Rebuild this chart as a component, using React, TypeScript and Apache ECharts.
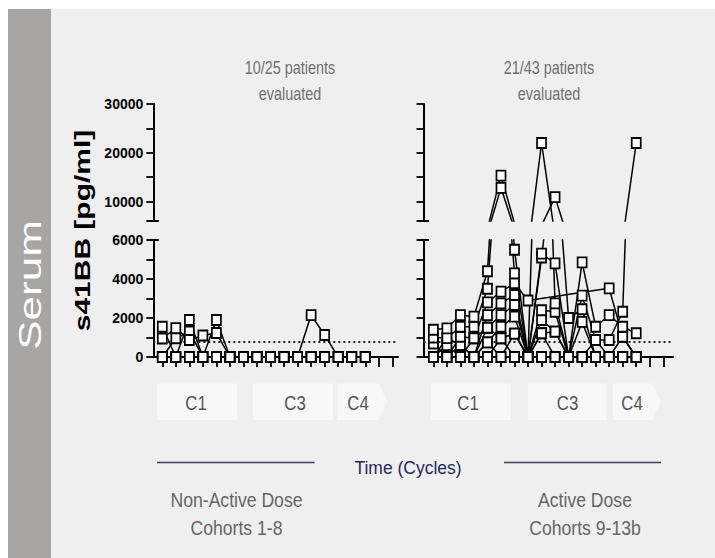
import React, { useEffect, useRef } from "react";
import * as echarts from "echarts";

// ---- data ----
const timeIndex = [0, 1, 2, 3, 4, 5, 6, 7, 8, 9, 10, 11, 12, 13, 14, 15];
const xTicks = [0, 1, 2, 3, 4, 5, 6, 7, 8, 9, 10, 11, 12, 13, 14, 15, 16, 17];

const upperTickValues = [6000, 10000, 15000, 20000, 25000, 30000];
const upperLabelValues = [10000, 20000, 30000];
const lowerLabelValues = [0, 2000, 4000, 6000];
const thresholdValue = 800;

// Non-active dose (cohorts 1-8), s41BB pg/ml per time point
const L1 = [1550, 0, 1900, 0, 1900, 0, 0, 0, 0, 0, 0, 0, 0, 0, 0, 0];
const L2 = [950, 1480, 870, 1100, 1230, 0, 0, 0, 0, 0, 0, 0, 0, 0, 0, 0];
const L3 = [0, 960, 1300, 0, 0, 0, 0, 0, 0, 0, 0, 0, 0, 0, 0, 0];
const L4 = [0, 0, 0, 0, 0, 0, 0, 0, 0, 0, 0, 2150, 1130, 0, 0, 0];
const L5 = [0, 0, 0, 0, 0, 0, 0, 0, 0, 0, 0, 0, 0, 0, 0, 0];
const L6 = [0, 0, 0, 0, 0, 0, 0, 0, 0, 0, 0, 0, 0, 0, null, null];
const leftPatients = [L5, L6, L4, L3, L2, L1];

// Active dose (cohorts 9-13b)
const R1 = [1400, 1470, 2150, 2070, 4400, 15300, 5500, 0, 5300, 4800, 0, 4850, 1550, 2150, 1550, 1215];
const R2 = [1000, 970, 1550, 1550, 3500, 12800, 4290, 0, 22000, 2750, 0, 3150, 870, 870, 2320, 22000];
const R3 = [700, 0, 1040, 960, 2800, 3350, 3780, 2900, null, null, null, null, null, 3520, 1040, 0];
const R4 = [0, 0, 615, 0, 2150, 2750, 3180, 0, 5100, 10900, 2000, 2450, 0, 0, 0, 0];
const R5 = [0, 0, 0, 0, 1500, 2150, 2670, 0, 2400, 2320, 0, 1800, 0, 0, 0, 0];
const R6 = [0, 0, 0, 0, 750, 1550, 2070, 0, 1900, 1300, 0, 0, 0, 0, 0, 0];
const R7 = [0, 600, 0, 0, 0, 960, 1200, 0, 1215, 0, 0, 0, 0, 0, 0, 0];
const R8 = [0, 0, 0, 0, 0, 0, 0, 0, 0, 0, 0, 0, 0, 0, 0, 0];
const R9 = [0, 970, 615, 0, 750, 0, 1200, 0, 0, 0, 0, 0, 870, 0, 0, 0];
const R10 = [700, 0, 0, 960, 1500, 960, 0, 0, 1215, 1300, 0, 0, 0, 0, 1040, 0];
const rightPatients = [R8, R10, R9, R7, R6, R5, R4, R3, R2, R1];

const panelTitles = ["10/25 patients\nevaluated", "21/43 patients\nevaluated"];
const cycleLabels = ["C1", "C3", "C4"];
const cohortLabels = ["Non-Active Dose\nCohorts 1-8", "Active Dose\nCohorts 9-13b"];
const yAxisTitle = "s41BB [pg/ml]";
const sideTitle = "Serum";
const xAxisTitle = "Time (Cycles)";

const SANS = "'Liberation Sans', Arial, sans-serif";

function lineSeries(values: (number | null)[], xi: number, yi: number, mark: boolean) {
  const data: [number, number][] = [];
  timeIndex.forEach((t, i) => {
    const v = values[i];
    if (v !== null && v !== undefined) data.push([t, v]);
  });
  const s: any = {
    type: "line",
    xAxisIndex: xi,
    yAxisIndex: yi,
    data,
    symbol: "rect",
    symbolSize: [9, 10],
    showSymbol: true,
    clip: true,
    silent: true,
    z: 3,
    itemStyle: { color: "#ffffff", borderColor: "#000000", borderWidth: 1.8 },
    lineStyle: { color: "#000000", width: 1.5 },
    emphasis: { disabled: true },
  };
  if (mark) {
    s.markLine = {
      silent: true,
      symbol: "none",
      label: { show: false },
      lineStyle: { type: [2, 3], color: "#222", width: 1.8 },
      data: [{ yAxis: thresholdValue }],
      z: 2,
    };
  }
  return s;
}

function xAxisDef(grid: number, min: number, max: number, visible: boolean) {
  return {
    type: "value",
    gridIndex: grid,
    min,
    max,
    show: visible,
    axisLine: { show: true, onZero: false, lineStyle: { color: "#000", width: 2 } },
    axisTick: { show: true, customValues: xTicks, length: 10, lineStyle: { color: "#000", width: 1.8 } },
    axisLabel: { show: false },
    splitLine: { show: false },
  };
}

function yAxisDef(grid: number, upper: boolean, labels: boolean) {
  const base: any = {
    type: "value",
    gridIndex: grid,
    axisLine: { show: true, onZero: false, lineStyle: { color: "#000", width: 2 } },
    axisTick: { show: true, length: 7, lineStyle: { color: "#000", width: 1.8 } },
    axisLabel: {
      show: labels,
      margin: 10,
      color: "#000",
      fontWeight: "bold",
      fontSize: 14,
      fontFamily: SANS,
      formatter: (v: number) => String(v),
    },
    splitLine: { show: false },
  };
  if (upper) {
    base.min = 6000;
    base.max = 30000;
    base.axisTick.customValues = upperTickValues;
    base.axisLabel.customValues = upperLabelValues;
  } else {
    base.min = 0;
    base.max = 6000;
    base.interval = 1000;
    base.axisLabel.customValues = lowerLabelValues;
  }
  return base;
}

export default function App() {
  const ref = useRef<HTMLDivElement>(null);
  useEffect(() => {
    if (!ref.current) return;
    const chart = echarts.init(ref.current, undefined, { renderer: "svg" });

    const LX = 153.3, LW = 398 - 153.3;
    const RX = 423.5, RW = 673 - 423.5;
    const UT = 104, UH = 117, LT = 240, LH = 117;

    const series: any[] = [];
    leftPatients.forEach((p, i) => {
      series.push(lineSeries(p, 0, 0, false));
      series.push(lineSeries(p, 1, 1, i === 0));
    });
    rightPatients.forEach((p, i) => {
      series.push(lineSeries(p, 2, 2, false));
      series.push(lineSeries(p, 3, 3, i === 0));
    });

    const boxFill = "#f8f8f8";
    const boxTop = 383.5, boxH = 36.5, boxMid = boxTop + boxH / 2;
    const cycleBoxes = [
      { x: 157.3, w: 80, label: cycleLabels[0], tx: 196 },
      { x: 253, w: 80, label: cycleLabels[1], tx: 295 },
      { x: 431, w: 80, label: cycleLabels[0], tx: 468 },
      { x: 528, w: 78.5, label: cycleLabels[1], tx: 567.5 },
    ];
    const arrowBoxes = [
      { x: 337.5, w: 41, tip: 9, label: cycleLabels[2], tx: 358 },
      { x: 613, w: 39, tip: 9, label: cycleLabels[2], tx: 632 },
    ];

    const graphics: any[] = [
      { type: "rect", z: -20, shape: { x: 8, y: 9, width: 707, height: 549 }, style: { fill: "#efefef" } },
      { type: "rect", z: -19, shape: { x: 8, y: 9, width: 43, height: 549 }, style: { fill: "#a8a6a4" } },
      {
        type: "text", z: 10, x: 30, y: 285, rotation: Math.PI / 2, scaleY: 0.7,
        style: { text: sideTitle, fill: "#ffffff", font: `44px ${SANS}`, align: "center", verticalAlign: "middle" },
      },
      {
        type: "text", z: 10, x: 83, y: 230.5, rotation: Math.PI / 2, scaleY: 0.72,
        style: { text: yAxisTitle, fill: "#000000", font: `bold 30px ${SANS}`, align: "center", verticalAlign: "middle" },
      },
      {
        type: "text", z: 10, x: 290, y: 80, scaleX: 0.8,
        style: { text: panelTitles[0], fill: "#707070", font: `18px ${SANS}`, lineHeight: 26, align: "center", verticalAlign: "middle" },
      },
      {
        type: "text", z: 10, x: 549, y: 80, scaleX: 0.8,
        style: { text: panelTitles[1], fill: "#707070", font: `18px ${SANS}`, lineHeight: 26, align: "center", verticalAlign: "middle" },
      },
    ];
    // axis break caps
    [LX, RX].forEach((ax) => {
      [UT + UH, LT].forEach((cy) => {
        graphics.push({ type: "line", z: 5, shape: { x1: ax - 5.5, y1: cy, x2: ax + 5.5, y2: cy }, style: { stroke: "#000", lineWidth: 2 } });
      });
    });
    cycleBoxes.forEach((b) => {
      graphics.push({ type: "rect", z: -15, shape: { x: b.x, y: boxTop, width: b.w, height: boxH }, style: { fill: boxFill } });
      graphics.push({
        type: "text", z: 10, x: b.tx, y: boxMid + 1, scaleX: 0.84,
        style: { text: b.label, fill: "#555555", font: `20px ${SANS}`, align: "center", verticalAlign: "middle" },
      });
    });
    arrowBoxes.forEach((b) => {
      graphics.push({
        type: "polygon", z: -15,
        shape: { points: [[b.x, boxTop], [b.x + b.w, boxTop], [b.x + b.w + b.tip, boxMid], [b.x + b.w, boxTop + boxH], [b.x, boxTop + boxH]] },
        style: { fill: boxFill },
      });
      graphics.push({
        type: "text", z: 10, x: b.tx, y: boxMid + 1, scaleX: 0.84,
        style: { text: b.label, fill: "#555555", font: `20px ${SANS}`, align: "center", verticalAlign: "middle" },
      });
    });
    graphics.push(
      { type: "line", z: 5, shape: { x1: 157, y1: 462.5, x2: 314.6, y2: 462.5 }, style: { stroke: "#34416f", lineWidth: 1.6 } },
      { type: "line", z: 5, shape: { x1: 504, y1: 462.5, x2: 661, y2: 462.5 }, style: { stroke: "#34416f", lineWidth: 1.6 } },
      {
        type: "text", z: 10, x: 408, y: 467, scaleX: 0.92,
        style: { text: xAxisTitle, fill: "#1f2b5c", font: `19px ${SANS}`, align: "center", verticalAlign: "middle" },
      },
      {
        type: "text", z: 10, x: 236.5, y: 514, scaleX: 0.88,
        style: { text: cohortLabels[0], fill: "#666666", font: `20px ${SANS}`, lineHeight: 28, align: "center", verticalAlign: "middle" },
      },
      {
        type: "text", z: 10, x: 585, y: 514, scaleX: 0.88,
        style: { text: cohortLabels[1], fill: "#666666", font: `20px ${SANS}`, lineHeight: 28, align: "center", verticalAlign: "middle" },
      }
    );

    chart.setOption({
      animation: false,
      backgroundColor: "#ffffff",
      grid: [
        { left: LX, top: UT, width: LW, height: UH },
        { left: LX, top: LT, width: LW, height: LH },
        { left: RX, top: UT, width: RW, height: UH },
        { left: RX, top: LT, width: RW, height: LH },
      ],
      xAxis: [
        xAxisDef(0, -0.665, 17.42, false),
        xAxisDef(1, -0.665, 17.42, true),
        xAxisDef(2, -0.73, 17.72, false),
        xAxisDef(3, -0.73, 17.72, true),
      ],
      yAxis: [yAxisDef(0, true, true), yAxisDef(1, false, true), yAxisDef(2, true, false), yAxisDef(3, false, false)],
      series,
      graphic: { elements: graphics },
    });
    return () => chart.dispose();
  }, []);
  return (
    <div
      ref={ref}
      style={{ position: "absolute", left: 0, top: 0, width: 715, height: 558, background: "#ffffff" }}
    />
  );
}
